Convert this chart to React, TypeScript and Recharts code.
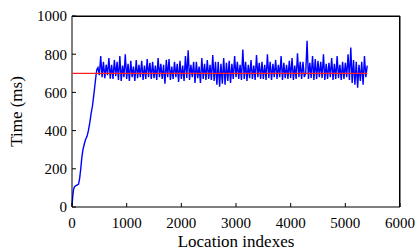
import React from "react";
import { LineChart, Line, XAxis, YAxis, Label } from "recharts";

const locationIndex = [
  0, 15, 30, 45, 60, 90, 120, 140, 160, 180, 200, 225, 250, 275, 300, 325, 350, 375, 400, 420, 440, 455,
  475, 500, 525, 550, 575, 600, 625, 650, 675, 700,
  725, 750, 775, 800, 825, 850, 875, 900, 925, 950,
  975, 1000, 1025, 1050, 1075, 1100, 1125, 1150, 1175, 1200,
  1225, 1250, 1275, 1300, 1325, 1350, 1375, 1400, 1425, 1450,
  1475, 1500, 1525, 1550, 1575, 1600, 1625, 1650, 1675, 1700,
  1725, 1750, 1775, 1800, 1825, 1850, 1875, 1900, 1925, 1950,
  1975, 2000, 2025, 2050, 2075, 2100, 2125, 2150, 2175, 2200,
  2225, 2250, 2275, 2300, 2325, 2350, 2375, 2400, 2425, 2450,
  2475, 2500, 2525, 2550, 2575, 2600, 2625, 2650, 2675, 2700,
  2725, 2750, 2775, 2800, 2825, 2850, 2875, 2900, 2925, 2950,
  2975, 3000, 3025, 3050, 3075, 3100, 3125, 3150, 3175, 3200,
  3225, 3250, 3275, 3300, 3325, 3350, 3375, 3400, 3425, 3450,
  3475, 3500, 3525, 3550, 3575, 3600, 3625, 3650, 3675, 3700,
  3725, 3750, 3775, 3800, 3825, 3850, 3875, 3900, 3925, 3950,
  3975, 4000, 4025, 4050, 4075, 4100, 4125, 4150, 4175, 4200,
  4225, 4250, 4275, 4300, 4325, 4350, 4375, 4400, 4425, 4450,
  4475, 4500, 4525, 4550, 4575, 4600, 4625, 4650, 4675, 4700,
  4725, 4750, 4775, 4800, 4825, 4850, 4875, 4900, 4925, 4950,
  4975, 5000, 5025, 5050, 5075, 5100, 5125, 5150, 5175, 5200,
  5225, 5250, 5275, 5300, 5325, 5350, 5375, 5400,
];

const timeMs = [
  5, 60, 95, 105, 110, 115, 120, 150, 200, 260, 300, 330, 355, 370, 400, 440, 490, 530, 590, 640, 690, 720,
  730, 690, 790, 680, 760, 675, 745, 690, 780, 672,
  745, 670, 770, 685, 760, 665, 790, 660, 740, 680,
  800, 670, 750, 660, 765, 680, 735, 660, 770, 675,
  745, 680, 765, 665, 740, 670, 775, 680, 755, 670,
  760, 675, 740, 665, 780, 680, 750, 670, 745, 645,
  770, 680, 775, 665, 735, 670, 760, 680, 750, 655,
  765, 670, 740, 660, 790, 675, 820, 665, 745, 680,
  760, 650, 760, 675, 735, 650, 780, 670, 750, 665,
  770, 670, 745, 665, 795, 660, 760, 640, 760, 630,
  750, 645, 780, 640, 755, 660, 765, 650, 750, 670,
  790, 680, 760, 670, 745, 665, 825, 670, 760, 660,
  745, 675, 770, 670, 740, 665, 795, 680, 755, 670,
  760, 670, 745, 665, 800, 675, 760, 665, 750, 680,
  770, 670, 745, 680, 790, 665, 755, 675, 745, 670,
  765, 675, 780, 665, 740, 670, 805, 680, 760, 670,
  760, 680, 700, 870, 670, 755, 675, 790, 665, 775,
  670, 765, 680, 760, 675, 800, 665, 750, 670, 755,
  680, 780, 665, 750, 670, 790, 675, 745, 665, 760,
  670, 755, 680, 800, 665, 835, 650, 770, 640, 760,
  625, 745, 660, 760, 640, 790, 680, 740,
];

const thresholdIndex = [0, 5400];
const thresholdTime = [700, 700];

const xTicks = [0, 1000, 2000, 3000, 4000, 5000, 6000];
const yTicks = [0, 200, 400, 600, 800, 1000];

const measured = locationIndex.map((x, i) => ({ x, t: timeMs[i] }));
const threshold = thresholdIndex.map((x, i) => ({ x, t: thresholdTime[i] }));

const FONT = "'Liberation Serif', 'Times New Roman', serif";
const tickStyle = { fill: "#000", fontSize: 15, fontFamily: FONT };
const frameLine = { stroke: "#000", strokeWidth: 1 };
const layer = { position: "absolute" as const, left: 0, top: 0 };

export default function App() {
  return (
    <div style={{ ...layer, width: 419, height: 251, background: "#fff" }}>
      {/* base layer: bottom/left axes + measured times */}
      <div style={layer}>
        <LineChart width={419} height={251} margin={{ top: 16, right: 19, bottom: 0, left: 0 }}>
          <XAxis
            dataKey="x"
            type="number"
            domain={[0, 6000]}
            ticks={xTicks}
            height={44}
            axisLine={frameLine}
            tickLine={frameLine}
            tickSize={-4}
            tickMargin={14}
            tick={tickStyle}
          >
            <Label
              value="Location indexes"
              position="insideBottom"
              offset={4}
              style={{ fill: "#000", fontSize: 17, fontFamily: FONT }}
            />
          </XAxis>
          <YAxis
            type="number"
            domain={[0, 1000]}
            ticks={yTicks}
            width={72}
            axisLine={frameLine}
            tickLine={frameLine}
            tickSize={-4}
            tickMargin={9}
            tick={tickStyle}
          >
            <Label
              content={({ viewBox }: any) => {
                const cx = 22;
                const cy = viewBox.y + viewBox.height / 2;
                return (
                  <text
                    x={cx}
                    y={cy}
                    transform={`rotate(-90 ${cx} ${cy})`}
                    textAnchor="middle"
                    fill="#000"
                    fontSize={17}
                    fontFamily={FONT}
                  >
                    Time (ms)
                  </text>
                );
              }}
            />
          </YAxis>
          <Line
            data={measured}
            dataKey="t"
            stroke="#0000ff"
            strokeWidth={1.4}
            dot={false}
            isAnimationActive={false}
          />
        </LineChart>
      </div>
      {/* overlay: top/right axes + threshold above the noisy trace */}
      <div style={{ ...layer, pointerEvents: "none" }}>
        <LineChart width={419} height={251} margin={{ top: 0, right: 0, bottom: 44, left: 72 }}>
          <XAxis
            orientation="top"
            dataKey="x"
            type="number"
            domain={[0, 6000]}
            ticks={xTicks}
            height={16}
            axisLine={frameLine}
            tickLine={frameLine}
            tickSize={-4}
            tick={false}
          />
          <YAxis
            orientation="right"
            type="number"
            domain={[0, 1000]}
            ticks={yTicks}
            width={19}
            axisLine={frameLine}
            tickLine={frameLine}
            tickSize={-4}
            tick={false}
          />
          <Line
            data={threshold}
            dataKey="t"
            stroke="#ff2020"
            strokeWidth={1.2}
            dot={false}
            isAnimationActive={false}
          />
        </LineChart>
      </div>
      {/* plot box top/right edges */}
      <div
        style={{
          position: "absolute",
          left: 72,
          top: 16,
          width: 328,
          height: 191,
          boxSizing: "border-box",
          borderTop: "1px solid #000",
          borderRight: "1px solid #000",
          pointerEvents: "none",
        }}
      />
    </div>
  );
}
